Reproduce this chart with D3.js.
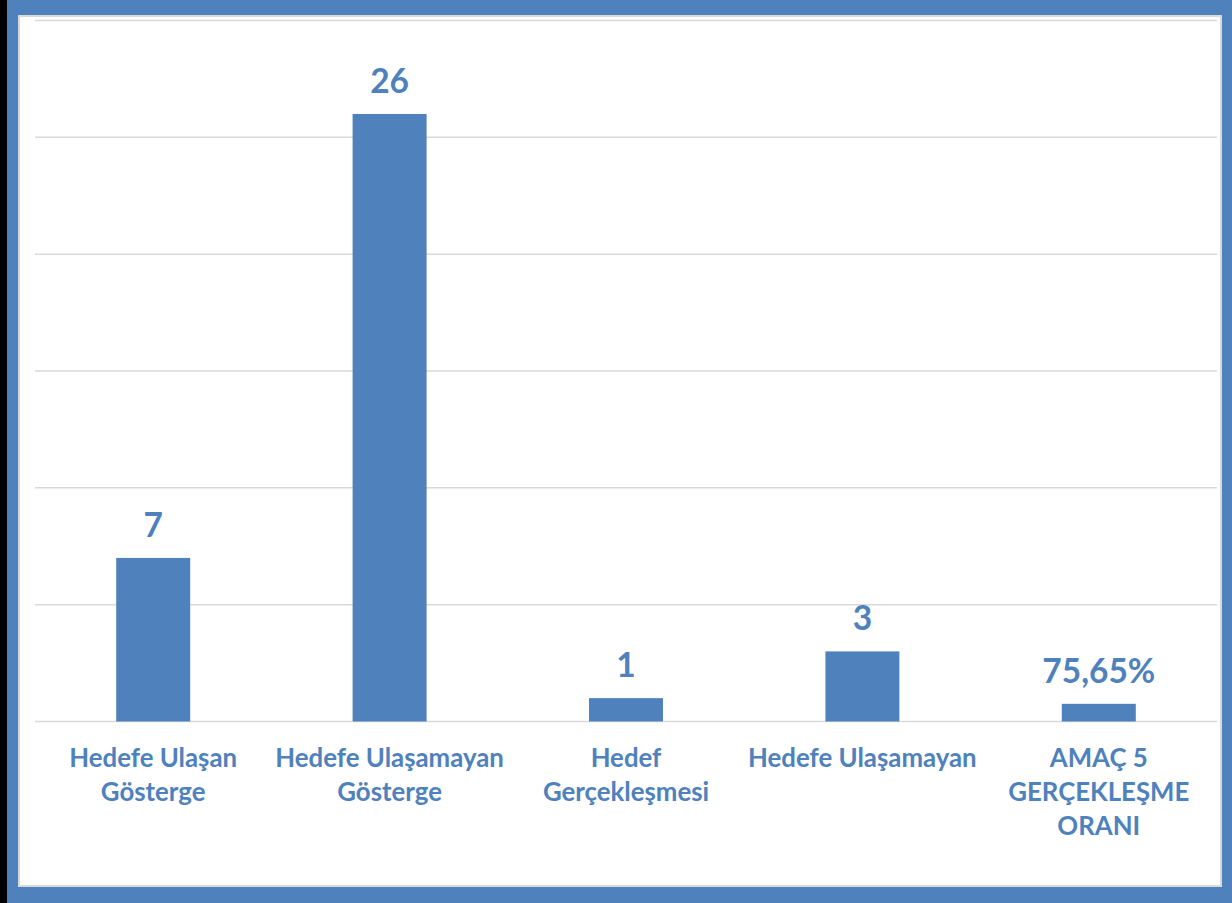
<!DOCTYPE html>
<html>
<head>
<meta charset="utf-8">
<script src="https://cdn.jsdelivr.net/npm/d3@7"></script>
<style>
  html, body { margin: 0; padding: 0; background: #fff; }
  svg { display: block; }
  text { font-family: Lato, "Open Sans", sans-serif; font-weight: 700; fill: #4F81BD; }
</style>
</head>
<body>
<div id="chart"></div>
<script>
// data
const categories = [
  ['Hedefe Ulaşan', 'Gösterge'],
  ['Hedefe Ulaşamayan', 'Gösterge'],
  ['Hedef', 'Gerçekleşmesi'],
  ['Hedefe Ulaşamayan'],
  ['AMAÇ 5', 'GERÇEKLEŞME', 'ORANI'],
];
const values = [7, 26, 1, 3, 0.7565];
const valueLabels = ['7', '26', '1', '3', '75,65%'];
const yTicks = [0, 5, 10, 15, 20, 25, 30];

const W = 1232;
const H = 903;
const blue = '#4F81BD';

const $svg = d3.select('#chart').append('svg')
  .attr('width', W)
  .attr('height', H);

// frame
$svg.append('rect').attr('width', W).attr('height', H).attr('fill', blue);
$svg.append('rect').attr('width', 7).attr('height', H).attr('fill', '#000');
$svg.append('rect')
  .attr('x', 18).attr('y', 15).attr('width', 1204).attr('height', 872)
  .attr('fill', '#d9d9d9');
$svg.append('rect')
  .attr('x', 20).attr('y', 17).attr('width', 1200).attr('height', 868)
  .attr('fill', '#fff');

// scales
const x = d3.scaleBand()
  .domain(d3.range(values.length))
  .range([35, 1217]);
const y = d3.scaleLinear()
  .domain([0, 30])
  .range([721.5, 20.5]);
const barW = x.bandwidth() * 0.313;

// gridlines
$svg.append('g')
  .selectAll('line')
  .data(yTicks)
  .join('line')
  .attr('x1', 35)
  .attr('x2', 1217)
  .attr('y1', d => y(d))
  .attr('y2', d => y(d))
  .attr('stroke', '#d9d9d9')
  .attr('stroke-width', 1.5);

// bars
$svg.append('g')
  .selectAll('rect')
  .data(values)
  .join('rect')
  .attr('x', (d, i) => x(i) + x.bandwidth() / 2 - barW / 2)
  .attr('width', barW)
  .attr('y', d => y(d))
  .attr('height', d => y(0) - y(d))
  .attr('fill', blue);

// value labels
$svg.append('g')
  .selectAll('text')
  .data(values)
  .join('text')
  .attr('x', (d, i) => x(i) + x.bandwidth() / 2)
  .attr('y', d => y(d) - 21)
  .attr('text-anchor', 'middle')
  .style('font-size', '33.5px')
  .text((d, i) => valueLabels[i]);

// category labels
const $cat = $svg.append('g')
  .selectAll('text')
  .data(categories)
  .join('text')
  .attr('x', (d, i) => x(i) + x.bandwidth() / 2)
  .attr('y', 767)
  .attr('text-anchor', 'middle')
  .style('font-size', '25.8px');

$cat.selectAll('tspan')
  .data(d => d)
  .join('tspan')
  .attr('x', function () { return d3.select(this.parentNode).attr('x'); })
  .attr('dy', (d, i) => (i === 0 ? 0 : 34))
  .text(d => d);
</script>
</body>
</html>
